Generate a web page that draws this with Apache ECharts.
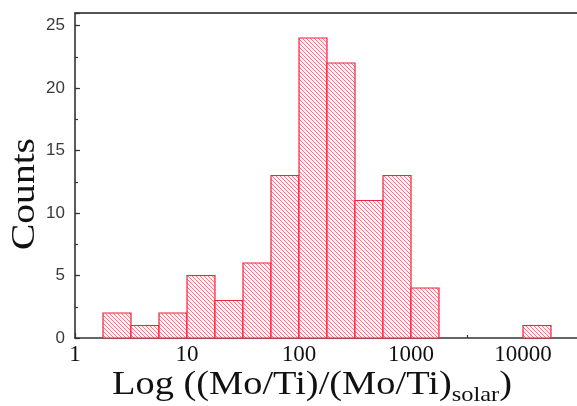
<!DOCTYPE html>
<html><head><meta charset="utf-8">
<script src="https://cdn.jsdelivr.net/npm/echarts@6/dist/echarts.min.js"></script>
<style>html,body{margin:0;padding:0;background:#fff}#c{width:577px;height:406px}</style>
</head><body><div id="c"></div>
<script>
// Histogram bins (ratio values, 0.25-dex wide) and counts
const binLow  = [1.778, 3.162, 5.623, 10, 17.78, 31.62, 56.23, 100, 177.8, 316.2, 562.3, 1000, 10000];
const binHigh = [3.162, 5.623, 10, 17.78, 31.62, 56.23, 100, 177.8, 316.2, 562.3, 1000, 1778, 17780];
const counts  = [2, 1, 2, 5, 3, 6, 13, 24, 22, 11, 13, 4, 1];
const xTickLabels = ['1', '10', '100', '1000', '10000'];
const yTickLabels = ['0', '5', '10', '15', '20', '25'];

// hatch pattern
const pc = document.createElement('canvas');
pc.width = 4; pc.height = 4;
const pctx = pc.getContext('2d');
pctx.fillStyle = '#fdf1f2';
pctx.fillRect(0, 0, 4, 4);
pctx.strokeStyle = 'rgba(214,70,90,0.75)';
pctx.lineWidth = 0.9;
pctx.beginPath();
pctx.moveTo(-1, -1); pctx.lineTo(5, 5);
pctx.moveTo(-1, 3); pctx.lineTo(1, 5);
pctx.moveTo(3, -1); pctx.lineTo(5, 1);
pctx.stroke();
const hatch = { image: pc, repeat: 'repeat' };

const data = binLow.map((v, i) => [Math.log10(v), Math.log10(binHigh[i]), counts[i]]);

const mctx = document.createElement('canvas').getContext('2d');
function tw(t, f) { mctx.font = f; return mctx.measureText(t).width; }
const mainFont = '33px "Liberation Serif"';
const subFont = '21px "Liberation Serif"';
const t1 = 'Log ((Mo/Ti)/(Mo/Ti)', t2 = 'solar', t3 = ')';
const w1 = tw(t1, mainFont), w2 = tw(t2, subFont), w3 = tw(t3, mainFont);
const xTitleW = 400;
const sx = xTitleW / (w1 + w2 + w3);
const cFont = '34px "Liberation Serif"';
const cw = tw('Counts', cFont);
const csx = 112 / cw;

const chart = echarts.init(document.getElementById('c'));
chart.setOption({
  animation: false,
  backgroundColor: '#fff',
  grid: { left: 75, right: -58, top: 13, bottom: 68, containLabel: false, outerBoundsMode: 'none' },
  xAxis: [{
    type: 'value', min: 0, max: 5, interval: 1,
    axisLine: { show: true, onZero: false, lineStyle: { color: '#333', width: 1.6 } },
    axisTick: { show: true, inside: true, length: 5, lineStyle: { color: '#333', width: 1.2 } },
    minorTick: { show: true, splitNumber: 2, length: 3, lineStyle: { color: '#333', width: 1.2 } },
    splitLine: { show: false },
    axisLabel: {
      margin: 5, color: '#111', fontFamily: 'Liberation Serif', fontSize: 23,
      formatter: v => (Number.isInteger(v) && v < xTickLabels.length) ? xTickLabels[v] : ''
    }
  }, {
    type: 'value', position: 'top', min: 0, max: 5,
    axisLine: { show: true, onZero: false, lineStyle: { color: '#555', width: 2 } },
    axisTick: { show: false }, axisLabel: { show: false }, splitLine: { show: false }
  }],
  yAxis: [{
    type: 'value', min: 0, max: 26, interval: 5,
    axisLine: { show: true, lineStyle: { color: '#333', width: 1.6 } },
    axisTick: { show: true, inside: true, length: 5, lineStyle: { color: '#333', width: 1.2 } },
    splitLine: { show: false },
    axisLabel: {
      margin: 10, color: '#3a3a3a', fontFamily: 'Liberation Sans', fontSize: 17,
      formatter: v => (v % 5 === 0) ? yTickLabels[v / 5] : ''
    }
  }, {
    type: 'value', min: 0, max: 26, interval: 2.5, position: 'left',
    axisLine: { show: false },
    axisTick: { show: true, inside: true, length: 3, lineStyle: { color: '#333', width: 1.2 } },
    axisLabel: { show: false }, splitLine: { show: false }
  }],
  series: [{
    type: 'custom',
    xAxisIndex: 0, yAxisIndex: 0,
    encode: { x: [0, 1], y: 2 },
    data: data,
    renderItem: function (params, api) {
      const p0 = api.coord([api.value(0), 0]);
      const p1 = api.coord([api.value(1), api.value(2)]);
      return {
        type: 'rect',
        shape: { x: p0[0], y: p1[1], width: p1[0] - p0[0], height: p0[1] - p1[1] },
        style: { fill: hatch, stroke: '#e8263f', lineWidth: 1.2 }
      };
    }
  }],
  graphic: [{
    type: 'group', x: 112, y: 385, scaleX: sx,
    children: [
      { type: 'text', x: 0, y: 0, style: { text: t1, font: mainFont, fill: '#111', verticalAlign: 'middle', align: 'left' } },
      { type: 'text', x: w1, y: 10, style: { text: t2, font: subFont, fill: '#111', verticalAlign: 'middle', align: 'left' } },
      { type: 'text', x: w1 + w2, y: 0, style: { text: t3, font: mainFont, fill: '#111', verticalAlign: 'middle', align: 'left' } }
    ]
  }, {
    type: 'text', x: 25, y: 194, rotation: Math.PI / 2, scaleX: csx,
    style: { text: 'Counts', font: cFont, fill: '#111', align: 'center', verticalAlign: 'middle' }
  }]
});
</script>
</body></html>
